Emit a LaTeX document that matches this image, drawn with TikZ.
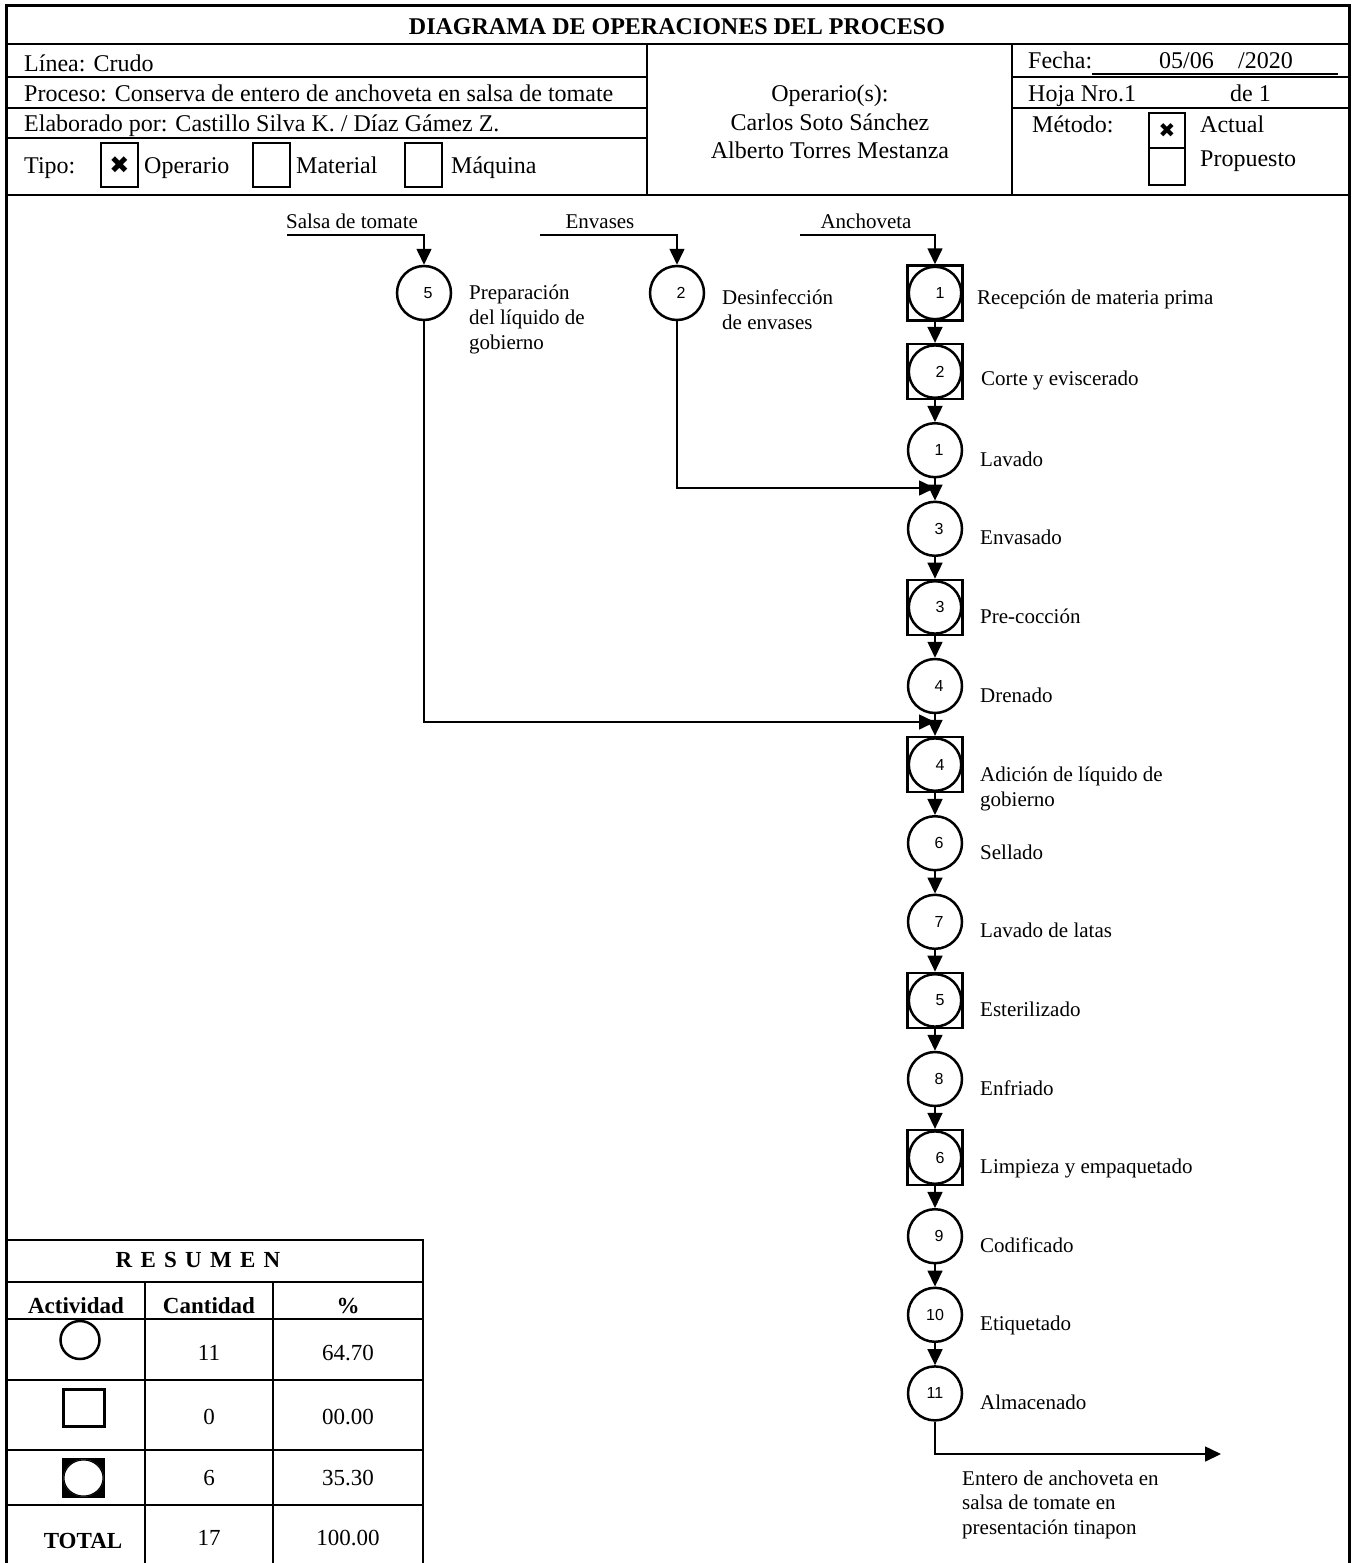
\documentclass[tikz,border=0pt]{standalone}
\usepackage{fontspec}
\setmainfont{Liberation Serif}
\newfontfamily\numfont{Liberation Sans}
\newfontfamily\symfont{DejaVu Sans}
\usetikzlibrary{arrows.meta}
\begin{document}
\begin{tikzpicture}[x=1pt,y=-1pt,
  frame/.style={line width=3pt},
  gridline/.style={line width=2.5pt},
  hdr/.style={font=\fontsize{24}{28}\selectfont, inner sep=0pt, anchor=base west},
  hdrc/.style={font=\fontsize{24}{28}\selectfont, inner sep=0pt, anchor=base},
  ttl/.style={font=\bfseries\fontsize{24}{28}\selectfont, inner sep=0pt, anchor=base},
  lbl/.style={font=\fontsize{21}{25}\selectfont, inner sep=0pt, anchor=base west, align=left},
  lblc/.style={font=\fontsize{21}{25}\selectfont, inner sep=0pt, anchor=base},
  circ/.style={draw, circle, minimum size=54pt, inner sep=0pt, line width=2.5pt, font=\numfont\fontsize{16}{19}\selectfont},
  combo/.style={draw, rectangle, minimum size=55pt, inner sep=0pt, line width=2.5pt, font=\numfont\fontsize{16}{19}\selectfont,
     path picture={\draw[line width=2.5pt] (path picture bounding box.center) circle (26.2pt);}},
  flow/.style={line width=1.6pt, -{Triangle[length=16pt,width=15pt]}},
  chk/.style={draw, line width=2pt, minimum width=37pt, minimum height=44pt, inner sep=0pt},
  mchk/.style={draw, line width=2pt, minimum width=36pt, inner sep=0pt},
  tab/.style={font=\fontsize{23}{27}\selectfont, inner sep=0pt},
  tabb/.style={font=\bfseries\fontsize{23}{27}\selectfont, inner sep=0pt}
]
\useasboundingbox (0,0) rectangle (1353,1563);
% outer frame
\draw[frame] (6,1575) -- (6,6) -- (1349,6) -- (1349,1575);
% header grid
\draw[gridline] (6,44) -- (1349,44);
\draw[gridline] (6,195) -- (1349,195);
\draw[gridline] (6,77) -- (647,77);
\draw[gridline] (6,108) -- (647,108);
\draw[gridline] (6,138) -- (647,138);
\draw[gridline] (647,44) -- (647,195);
\draw[gridline] (1012,44) -- (1012,195);
\draw[gridline] (1012,77) -- (1349,77);
\draw[gridline] (1012,108) -- (1349,108);

\node[ttl] (title) at (677,35) {DIAGRAMA DE OPERACIONES DEL PROCESO};
\node[hdr] (linea) at (24,71) {Línea: Crudo};
\node[hdr] (proceso) at (24,101) {Proceso: Conserva de entero de anchoveta en salsa de tomate};
\node[hdr] (elab) at (24,131) {Elaborado por: Castillo Silva K. / Díaz Gámez Z.};
\node[hdr] (tipo) at (24,173) {Tipo:};
\node[chk] (b1) at (119.5,165) {\symfont\fontsize{24}{24}\selectfont ✖};
\node[hdr] (oper) at (144,173) {Operario};
\node[chk] (b2) at (271,165) {};
\node[hdr] (mat) at (296,173) {Material};
\node[chk] (b3) at (423.5,165) {};
\node[hdr] (maq) at (451,173) {Máquina};

\node[hdrc] (ops) at (830,101) {Operario(s):};
\node[hdrc] (op1) at (830,130) {Carlos Soto Sánchez};
\node[hdrc] (op2) at (830,158) {Alberto Torres Mestanza};

\node[hdr] (fecha) at (1028,69) {Fecha:};
\draw[line width=1.5pt] (1092,74) -- (1338,74);
\node[hdr] (fd) at (1159,69) {05/06};
\node[hdr] (fy) at (1238,69) {/2020};
\node[hdr] (hoja) at (1028,101) {Hoja Nro.1};
\node[hdr] (de1) at (1230,101) {de 1};
\node[hdr] (metodo) at (1032,132) {Método:};
\node[mchk, minimum height=35pt] (m1) at (1167,130.5) {\symfont\fontsize{20}{20}\selectfont ✖};
\node[mchk, minimum height=37pt] (m2) at (1167,166.5) {};
\node[hdr] (actual) at (1200,132) {Actual};
\node[hdr] (prop) at (1200,166) {Propuesto};

% inputs
\node[lblc] (lsalsa) at (352,228) {Salsa de tomate};
\node[lblc] (lenv) at (600,228) {Envases};
\node[lblc] (lanch) at (866,228) {Anchoveta};
\coordinate (a0) at (287,235);
\coordinate (a1) at (540,235);
\coordinate (a2) at (800,235);

% side operations
\node[circ] (s5) at (424,293) {\hspace*{8pt}5};
\node[lbl] (ls5) at (469,349) {Preparación\\del líquido de\\gobierno};
\node[circ] (e2) at (677,293) {\hspace*{8pt}2};
\node[lbl] (le2) at (722,329) {Desinfección\\de envases};

% main column
\node[combo] (n0) at (935,293.0) {\hspace*{10pt}1};
\node[combo] (n1) at (935,371.6) {\hspace*{10pt}2};
\node[circ] (n2) at (935,450.2) {\hspace*{8pt}1};
\node[circ] (n3) at (935,528.8) {\hspace*{8pt}3};
\node[combo] (n4) at (935,607.4) {\hspace*{10pt}3};
\node[circ] (n5) at (935,686.0) {\hspace*{8pt}4};
\node[combo] (n6) at (935,764.6) {\hspace*{10pt}4};
\node[circ] (n7) at (935,843.2) {\hspace*{8pt}6};
\node[circ] (n8) at (935,921.8) {\hspace*{8pt}7};
\node[combo] (n9) at (935,1000.4) {\hspace*{10pt}5};
\node[circ] (n10) at (935,1079.0) {\hspace*{8pt}8};
\node[combo] (n11) at (935,1157.6) {\hspace*{10pt}6};
\node[circ] (n12) at (935,1236.2) {\hspace*{8pt}9};
\node[circ] (n13) at (935,1314.8) {10};
\node[circ] (n14) at (935,1393.4) {11};

\node[lbl] (l0) at (977,304.0) {Recepción de materia prima};
\node[lbl] (l1) at (981,385.6) {Corte y eviscerado};
\node[lbl] (l2) at (980,466.2) {Lavado};
\node[lbl] (l3) at (980,544.8) {Envasado};
\node[lbl] (l4) at (980,623.4) {Pre-cocción};
\node[lbl] (l5) at (980,702.0) {Drenado};
\node[lbl] (l6) at (980,806) {Adición de líquido de\\gobierno};
\node[lbl] (l7) at (980,859.2) {Sellado};
\node[lbl] (l8) at (980,937.8) {Lavado de latas};
\node[lbl] (l9) at (980,1016.4) {Esterilizado};
\node[lbl] (l10) at (980,1095.0) {Enfriado};
\node[lbl] (l11) at (980,1173.6) {Limpieza y empaquetado};
\node[lbl] (l12) at (980,1252.2) {Codificado};
\node[lbl] (l13) at (980,1330.8) {Etiquetado};
\node[lbl] (l14) at (980,1409.4) {Almacenado};

\coordinate (j1) at (935,488);
\coordinate (j2) at (935,722);
\coordinate (out) at (1221,1454);

\draw[flow] (a0) -| (s5.north);
\draw[flow] (a1) -| (e2.north);
\draw[flow] (a2) -| (n0.north);
\draw[flow] (e2.south) |- (j1);
\draw[flow] (s5.south) |- (j2);
\draw[flow] (n0) -- (n1);
\draw[flow] (n1) -- (n2);
\draw[flow] (n2) -- (n3);
\draw[flow] (n3) -- (n4);
\draw[flow] (n4) -- (n5);
\draw[flow] (n5) -- (n6);
\draw[flow] (n6) -- (n7);
\draw[flow] (n7) -- (n8);
\draw[flow] (n8) -- (n9);
\draw[flow] (n9) -- (n10);
\draw[flow] (n10) -- (n11);
\draw[flow] (n11) -- (n12);
\draw[flow] (n12) -- (n13);
\draw[flow] (n13) -- (n14);
\draw[flow] (n14.south) |- (out);
\node[lbl, font=\fontsize{21}{24.5}\selectfont] (lout) at (962,1534) {Entero de anchoveta en\\salsa de tomate en\\presentación tinapon};

% summary table
\draw[gridline] (6,1240) -- (423,1240) -- (423,1575);
\draw[gridline] (6,1282) -- (423,1282);
\draw[gridline] (6,1319) -- (423,1319);
\draw[gridline] (6,1380) -- (423,1380);
\draw[gridline] (6,1450) -- (423,1450);
\draw[gridline] (6,1505) -- (423,1505);
\draw[gridline] (145,1282) -- (145,1575);
\draw[gridline] (273,1282) -- (273,1575);

\node[tabb] (res) at (198,1260) {R\hspace{2.5pt} E\hspace{2.5pt} S\hspace{2.5pt} U\hspace{2.5pt} M\hspace{2.5pt} E\hspace{2.5pt} N};
\node[tabb] (hact) at (76,1306) {Actividad};
\node[tabb] (hcan) at (209,1306) {Cantidad};
\node[tabb] (hpct) at (348,1306) {\%};
\draw[line width=2.5pt] (80,1340) ellipse (19.5pt and 19pt);
\node[tab] (c1) at (209,1353) {11};
\node[tab] (p1) at (348,1353) {64.70};
\draw[line width=3pt] (63,1389) rectangle (104,1426);
\node[tab] (c2) at (209,1417) {0};
\node[tab] (p2) at (348,1417) {00.00};
\fill[black] (62,1458) rectangle (105,1498);
\fill[white] (83.5,1478) ellipse (20pt and 18.5pt);
\draw[line width=1.2pt] (83.5,1478) ellipse (19.6pt and 18.1pt);
\node[tab] (c3) at (209,1478) {6};
\node[tab] (p3) at (348,1478) {35.30};
\node[tabb] (tot) at (83,1541) {TOTAL};
\node[tab] (c4) at (209,1538) {17};
\node[tab] (p4) at (348,1538) {100.00};
\end{tikzpicture}
\end{document}
